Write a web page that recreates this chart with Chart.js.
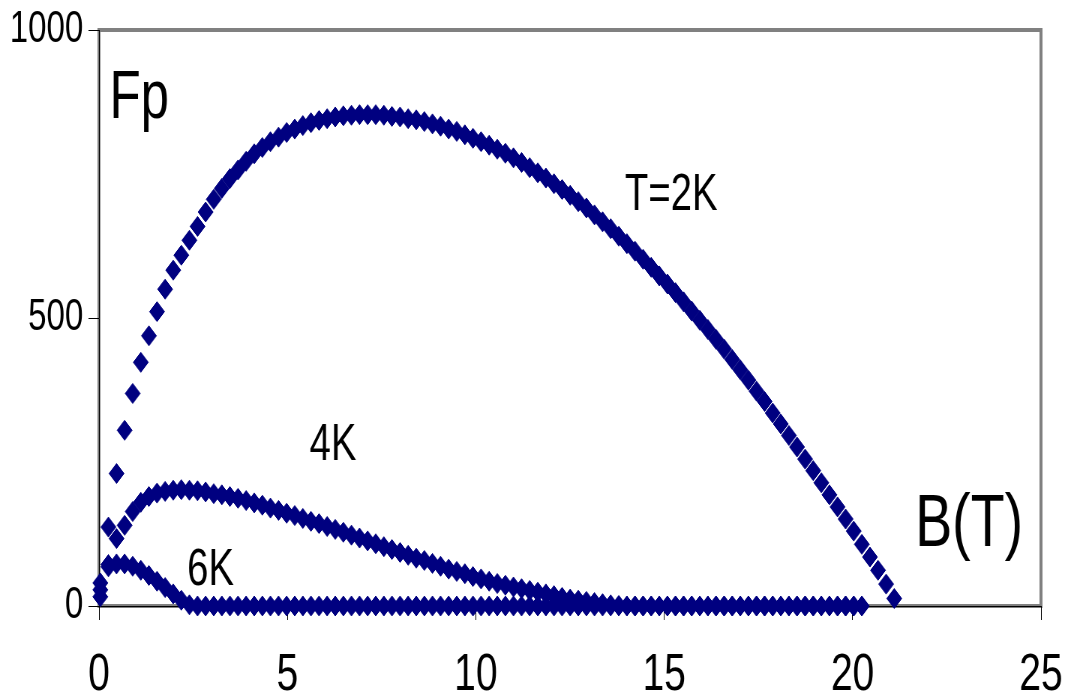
<!DOCTYPE html>
<html>
<head>
<meta charset="utf-8">
<script src="https://cdn.jsdelivr.net/npm/chart.js@4.4.1/dist/chart.umd.min.js"></script>
<style>
  html, body { margin: 0; padding: 0; background: #fff; overflow: hidden; width: 1073px; height: 697px; }
  /* the chart is laid out 1431 px wide and squeezed to 1073 px (narrow, condensed look) */
  #wrap { width: 1431px; height: 697px; transform: scaleX(0.75); transform-origin: 0 0; }
  #fp { display: block; }
</style>
</head>
<body>
<div id="wrap"><canvas id="fp" width="1431" height="697" style="width:1431px;height:697px"></canvas></div>
<script>
// Applied field B (T), shared by all three temperatures
const fieldB = [
  0.035, 0.25, 0.465, 0.68, 0.895, 1.11, 1.325, 1.54, 1.755, 1.97,
  2.185, 2.4, 2.615, 2.83, 3.045, 3.26, 3.475, 3.69, 3.905, 4.12,
  4.335, 4.55, 4.765, 4.98, 5.195, 5.41, 5.625, 5.84, 6.055, 6.27,
  6.485, 6.7, 6.915, 7.13, 7.345, 7.56, 7.775, 7.99, 8.205, 8.42,
  8.635, 8.85, 9.065, 9.28, 9.495, 9.71, 9.925, 10.14, 10.355, 10.57,
  10.785, 11.0, 11.215, 11.43, 11.645, 11.86, 12.075, 12.29, 12.505, 12.72,
  12.935, 13.15, 13.365, 13.58, 13.795, 14.01, 14.225, 14.44, 14.655, 14.87,
  15.085, 15.3, 15.515, 15.73, 15.945, 16.16, 16.375, 16.59, 16.805, 17.02,
  17.235, 17.45, 17.665, 17.88, 18.095, 18.31, 18.525, 18.74, 18.955, 19.17,
  19.385, 19.6, 19.815, 20.03, 20.245, 20.46, 20.675, 20.89, 21.105
];

// Pinning force Fp at T = 2 K
const fp2K = [
  40, 137, 230, 305, 369, 423, 469, 511, 550, 583,
  609, 635, 659, 684, 706, 725, 742, 757, 772, 785,
  796, 806, 814, 822, 828, 834, 839, 843, 846, 849,
  851, 852, 853, 853, 853, 852, 850, 849, 846, 844,
  841, 837, 833, 828, 824, 818, 812, 806, 800, 793,
  786, 778, 770, 761, 752, 743, 733, 723, 713, 702,
  691, 679, 667, 655, 642, 629, 616, 602, 588, 573,
  559, 544, 528, 512, 496, 480, 463, 446, 428, 410,
  392, 373, 355, 335, 316, 296, 276, 255, 235, 214,
  193, 172, 151, 130, 107, 85, 62, 38, 13
];

// Pinning force Fp at T = 4 K
const fp4K = [
  28, 72, 117, 140, 164, 180, 190, 196, 199, 201,
  202, 201, 200, 198, 195, 193, 190, 187, 183, 179,
  175, 170, 166, 161, 157, 152, 147, 143, 138, 133,
  128, 123, 118, 113, 108, 103, 98, 93, 88, 83,
  79, 74, 69, 64, 60, 56, 51, 47, 43, 39,
  36, 33, 30, 27, 24, 21, 18, 15, 12, 10,
  8, 6, 4, 2, 1, 0, 0, 0, 0, 0,
  0, 0, 0, 0, 0, 0, 0, 0, 0, 0,
  0, 0, 0, 0, 0, 0, 0, 0, 0, 0,
  0, 0, 0, 0, 0
];

// Pinning force Fp at T = 6 K
const fp6K = [
  16, 68, 73, 73, 69, 62, 53, 43, 32, 21,
  10, 2, 0, 0, 0, 0, 0, 0, 0, 0,
  0, 0, 0, 0, 0, 0, 0, 0, 0, 0,
  0, 0, 0, 0, 0, 0, 0, 0, 0, 0,
  0, 0, 0, 0, 0, 0, 0, 0, 0, 0,
  0, 0, 0, 0, 0, 0, 0, 0, 0, 0,
  0, 0, 0, 0, 0, 0, 0, 0, 0, 0,
  0, 0, 0, 0, 0, 0, 0, 0, 0, 0,
  0, 0, 0, 0, 0, 0, 0, 0, 0, 0,
  0, 0, 0, 0, 0
];

const seriesNames = ['T=2K', '4K', '6K'];
const xTickValues = [0, 5, 10, 15, 20, 25];
const yTickValues = [0, 500, 1000];
const axisTitles = { y: 'Fp', x: 'B(T)' };

const FONT = '"Liberation Sans", Arial, Helvetica, sans-serif';
const NAVY = '#000080';

// where each in-plot caption sits, in axis units (left edge, baseline)
const captionPlacement = [
  { text: axisTitles.y,   x: 0.28,  y: 847, size: 68 },
  { text: seriesNames[0], x: 13.96, y: 688, size: 51 },
  { text: seriesNames[1], x: 5.59,  y: 253, size: 51 },
  { text: seriesNames[2], x: 2.34,  y: 36,  size: 51 },
  { text: axisTitles.x,   x: 21.66, y: 105, size: 74 }
];

function toPoints(values) {
  return values.map((v, i) => ({ x: fieldB[i], y: v }));
}

function series(label, values) {
  return {
    label,
    data: toPoints(values),
    showLine: false,
    pointStyle: 'rectRot',
    pointRadius: 10,
    pointHoverRadius: 10,
    pointBorderWidth: 1,
    pointBackgroundColor: NAVY,
    pointBorderColor: NAVY,
    clip: false
  };
}

// white page plus the grey plot-area frame, under the axes
const framePlugin = {
  id: 'frame',
  beforeDraw(chart) {
    const { ctx, chartArea: a } = chart;
    ctx.save();
    ctx.fillStyle = '#fff';
    ctx.fillRect(0, 0, chart.width, chart.height);
    ctx.strokeStyle = '#808080';
    ctx.lineWidth = 4;
    ctx.strokeRect(a.left, a.top, a.right - a.left, a.bottom - a.top);
    ctx.restore();
  }
};

// captions written inside the plot
const captionPlugin = {
  id: 'captions',
  afterDatasetsDraw(chart) {
    const { ctx, scales } = chart;
    ctx.save();
    ctx.fillStyle = '#000';
    ctx.textAlign = 'left';
    ctx.textBaseline = 'alphabetic';
    captionPlacement.forEach(c => {
      ctx.font = c.size + 'px ' + FONT;
      ctx.fillText(c.text, scales.x.getPixelForValue(c.x), scales.y.getPixelForValue(c.y));
    });
    ctx.restore();
  }
};

const axisStyle = {
  grid: { drawOnChartArea: false, drawTicks: true, tickLength: 14, color: '#000', lineWidth: 1 },
  border: { display: true, color: '#000', width: 1 }
};

new Chart(document.getElementById('fp'), {
  type: 'scatter',
  data: {
    datasets: [
      series(seriesNames[0], fp2K),
      series(seriesNames[1], fp4K),
      series(seriesNames[2], fp6K)
    ]
  },
  options: {
    responsive: false,
    animation: false,
    events: [],
    layout: { padding: { left: 0, top: 30, right: 43, bottom: 0 } },
    plugins: { legend: { display: false }, tooltip: { enabled: false } },
    scales: {
      x: {
        type: 'linear', min: 0, max: 25,
        afterBuildTicks: s => { s.ticks = xTickValues.map(v => ({ value: v })); },
        // fixed band height; end labels may overhang the plot edges
        afterFit: s => { s.height = 91; s.paddingLeft = 0; s.paddingRight = 0; },
        ticks: { font: { family: FONT, size: 52 }, color: '#000', padding: 24, maxRotation: 0, autoSkip: false,
                 callback: v => String(v) },
        ...axisStyle
      },
      y: {
        type: 'linear', min: 0, max: 1000,
        afterBuildTicks: s => { s.ticks = yTickValues.map(v => ({ value: v })); },
        afterFit: s => { s.width = 132; s.paddingTop = 0; s.paddingBottom = 0; },
        ticks: { font: { family: FONT, size: 44 }, color: '#000', padding: 7, autoSkip: false,
                 callback: v => String(v) },
        ...axisStyle
      }
    }
  },
  plugins: [framePlugin, captionPlugin]
});
</script>
</body>
</html>
